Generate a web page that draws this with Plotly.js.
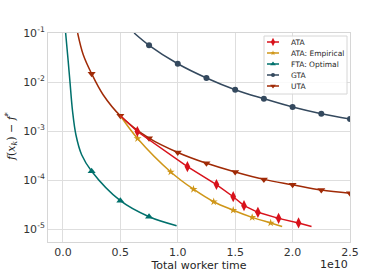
<!DOCTYPE html>
<html><head><meta charset="utf-8">
<script src="https://cdn.plot.ly/plotly-3.0.1.min.js"></script>
<style>html,body{margin:0;padding:0;background:#fff}#chart{width:389px;height:272px}</style>
</head><body><div id="chart"></div>
<script>
// x values are total worker time in units of 1e10
const seriesNames = ["ATA", "ATA: Empirical", "FTA: Optimal", "GTA", "UTA"];

const ataLineX = [0.5, 0.648, 1.084, 1.337, 1.483, 1.577, 1.698, 1.878, 2.052, 2.165];
const ataLineY = [2.05e-3, 9.77e-4, 1.87e-4, 8.09e-5, 4.56e-5, 2.99e-5, 2.19e-5, 1.65e-5, 1.33e-5, 1.13e-5];
const ataMarkX = [0.648, 1.084, 1.337, 1.483, 1.577, 1.698, 1.878, 2.052];
const ataMarkY = [9.77e-4, 1.87e-4, 8.09e-5, 4.56e-5, 2.99e-5, 2.19e-5, 1.65e-5, 1.33e-5];

const empLineX = [0.5, 0.650, 0.939, 1.137, 1.313, 1.483, 1.648, 1.809, 1.909];
const empLineY = [2.05e-3, 7.03e-4, 1.46e-4, 6.48e-5, 3.60e-5, 2.42e-5, 1.73e-5, 1.33e-5, 1.13e-5];
const empMarkX = [0.650, 0.939, 1.137, 1.313, 1.483, 1.648, 1.809];
const empMarkY = [7.03e-4, 1.46e-4, 6.48e-5, 3.60e-5, 2.42e-5, 1.73e-5, 1.33e-5];

const ftaLineX = [0.0235, 0.046, 0.061, 0.084, 0.113, 0.163, 0.25, 0.5, 0.75, 0.99];
const ftaLineY = [0.1, 0.0264, 0.0103, 2.52e-3, 8.4e-4, 3.28e-4, 1.51e-4, 3.78e-5, 1.78e-5, 1.17e-5];
const ftaMarkX = [0.25, 0.5, 0.75];
const ftaMarkY = [1.51e-4, 3.78e-5, 1.78e-5];

const gtaLineX = [0.62, 0.75, 1.0, 1.25, 1.5, 1.75, 2.0, 2.25, 2.5];
const gtaLineY = [0.1, 0.0561, 0.0236, 0.0121, 6.97e-3, 4.56e-3, 3.09e-3, 2.26e-3, 1.76e-3];
const gtaMarkX = [0.75, 1.0, 1.25, 1.5, 1.75, 2.0, 2.25, 2.5];
const gtaMarkY = [0.0561, 0.0236, 0.0121, 6.97e-3, 4.56e-3, 3.09e-3, 2.26e-3, 1.76e-3];

const utaLineX = [0.128, 0.177, 0.25, 0.35, 0.5, 0.75, 1.0, 1.25, 1.5, 1.75, 2.0, 2.25, 2.5];
const utaLineY = [0.1, 0.036, 0.01476, 5.5e-3, 2.05e-3, 7.13e-4, 3.64e-4, 2.19e-4, 1.46e-4, 1.03e-4, 8.0e-5, 6.25e-5, 5.36e-5];
const utaMarkX = [0.25, 0.5, 0.75, 1.0, 1.25, 1.5, 1.75, 2.0, 2.25, 2.5];
const utaMarkY = [0.01476, 2.05e-3, 7.13e-4, 3.64e-4, 2.19e-4, 1.46e-4, 1.03e-4, 8.0e-5, 6.25e-5, 5.36e-5];

const xTickVals = [0, 0.5, 1.0, 1.5, 2.0, 2.5];
const xTickText = ["0.0", "0.5", "1.0", "1.5", "2.0", "2.5"];
const yTickVals = [1e-5, 1e-4, 1e-3, 1e-2, 1e-1];
const yTickText = ["10<sup>-5</sup>", "10<sup>-4</sup>", "10<sup>-3</sup>", "10<sup>-2</sup>", "10<sup>-1</sup>"];

// styles
const styles = [
  {color: "#d8121b", symbol: "diamond-tall", size: 8, shape: "linear"},
  {color: "#cf9618", symbol: "star", size: 6, shape: "spline"},
  {color: "#00706c", symbol: "triangle-up", size: 7, shape: "spline"},
  {color: "#34495e", symbol: "circle", size: 6, shape: "spline"},
  {color: "#a02a06", symbol: "triangle-down", size: 7, shape: "spline"}
];
const lines = [[ataLineX, ataLineY], [empLineX, empLineY], [ftaLineX, ftaLineY], [gtaLineX, gtaLineY], [utaLineX, utaLineY]];
const marks = [[ataMarkX, ataMarkY], [empMarkX, empMarkY], [ftaMarkX, ftaMarkY], [gtaMarkX, gtaMarkY], [utaMarkX, utaMarkY]];
const drawOrder = [3, 4, 2, 1, 0];

const traces = [];
drawOrder.forEach(i => {
  const s = styles[i];
  traces.push({x: lines[i][0], y: lines[i][1], mode: "lines", type: "scatter", name: seriesNames[i],
    showlegend: false, hoverinfo: "skip", line: {color: s.color, width: 1.5, shape: s.shape, smoothing: 1}});
  traces.push({x: marks[i][0], y: marks[i][1], mode: "markers", type: "scatter", name: seriesNames[i],
    showlegend: false, marker: {color: s.color, symbol: s.symbol, size: s.size, line: {width: 0}}});
});

// custom legend drawn on pixel-space overlay axes
const M = {l: 48, r: 39, t: 33, b: 30};
const W = 389, H = 272;
const LG = {x0: 264, x1: 347, y0: 36, y1: 94, sx0: 267, sx1: 279, tx: 289, ytop: 42, dy: 11};
traces.push({x: [LG.x0, LG.x1, LG.x1, LG.x0, LG.x0], y: [LG.y0, LG.y0, LG.y1, LG.y1, LG.y0],
  xaxis: "x2", yaxis: "y2", mode: "lines", fill: "toself", fillcolor: "rgba(255,255,255,0.85)",
  line: {color: "#d6d6d6", width: 1}, showlegend: false, hoverinfo: "skip"});
const annotations = [];
seriesNames.forEach((nm, i) => {
  const s = styles[i];
  const yy = LG.ytop + LG.dy * i;
  traces.push({x: [LG.sx0, LG.sx1], y: [yy, yy], xaxis: "x2", yaxis: "y2", mode: "lines",
    line: {color: s.color, width: 1.5}, showlegend: false, hoverinfo: "skip"});
  traces.push({x: [(LG.sx0 + LG.sx1) / 2], y: [yy], xaxis: "x2", yaxis: "y2", mode: "markers",
    marker: {color: s.color, symbol: s.symbol, size: s.size - 2}, showlegend: false, hoverinfo: "skip"});
  annotations.push({xref: "x2", yref: "y2", x: LG.tx, y: yy, text: nm, showarrow: false,
    xanchor: "left", yanchor: "middle", font: {family: "DejaVu Sans", size: 7.5, color: "#262626"}});
});

annotations.push({xref: "paper", yref: "paper", x: 1, y: -0.11, xanchor: "right", yanchor: "middle",
  text: "1e10", showarrow: false, font: {family: "DejaVu Sans", size: 11, color: "#262626"}});
annotations.push({xref: "paper", yref: "paper", x: (11 - M.l) / (W - M.l - M.r), y: (H - M.b - 137) / (H - M.t - M.b),
  xanchor: "center", yanchor: "middle", textangle: -90, showarrow: false,
  text: "<i>f</i>(<i>x<sub>k</sub></i>) − <i>f</i><sup>*</sup>",
  font: {family: "DejaVu Serif", size: 11, color: "#262626"}});

const layout = {
  width: W, height: H, margin: M,
  paper_bgcolor: "#ffffff", plot_bgcolor: "#ffffff",
  font: {family: "DejaVu Sans", size: 11, color: "#262626"},
  showlegend: false,
  xaxis: {range: [-0.13, 2.5], tickvals: xTickVals, ticktext: xTickText, showgrid: true,
    gridcolor: "#dedede", gridwidth: 1, zeroline: false, showline: true, mirror: true, linecolor: "#d6d6d6",
    linewidth: 1, ticks: "", tickfont: {size: 11, color: "#333333"},
    title: {text: "Total worker time", font: {size: 11}, standoff: 3}},
  yaxis: {type: "log", range: [-5.265, -1], tickvals: yTickVals, ticktext: yTickText, showgrid: true,
    gridcolor: "#dedede", gridwidth: 1, zeroline: false, showline: true, mirror: true, linecolor: "#d6d6d6",
    linewidth: 1, ticks: "", tickfont: {size: 11, color: "#333333"}},
  xaxis2: {overlaying: "x", range: [M.l, W - M.r], visible: false, fixedrange: true},
  yaxis2: {overlaying: "y", range: [H - M.b, M.t], visible: false, fixedrange: true},
  annotations: annotations
};

Plotly.newPlot("chart", traces, layout, {staticPlot: true, displayModeBar: false});
</script>
</body></html>
